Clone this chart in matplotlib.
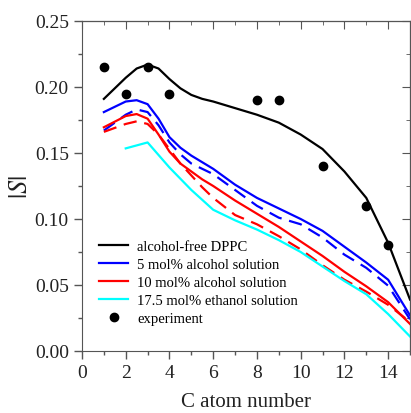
import matplotlib
matplotlib.use('Agg')
import matplotlib.pyplot as plt
from matplotlib.ticker import MultipleLocator

plt.rcParams['font.family'] = 'Liberation Serif'
plt.rcParams['mathtext.fontset'] = 'stix'

# Data
x_sim = [1, 2, 2.5, 3, 3.5, 4, 4.5, 5, 5.5, 6, 7, 8, 9, 10, 11, 12, 13, 14, 15]
s_free = [0.191, 0.207, 0.214, 0.217, 0.214, 0.206, 0.199, 0.194, 0.191, 0.189, 0.184, 0.179, 0.173, 0.164, 0.153, 0.136, 0.116, 0.082, 0.039]
s_5 = [0.181, 0.189, 0.190, 0.187, 0.176, 0.162, 0.154, 0.148, 0.143, 0.138, 0.126, 0.116, 0.108, 0.100, 0.091, 0.079, 0.067, 0.054, 0.027]
s_5_dash = [0.167, 0.179, 0.183, 0.181, 0.171, 0.158, 0.149, 0.142, 0.138, 0.134, 0.122, 0.110, 0.101, 0.096, 0.086, 0.073, 0.063, 0.0495, 0.024]
s_10 = [0.1695, 0.178, 0.1795, 0.176, 0.164, 0.151, 0.142, 0.136, 0.130, 0.125, 0.114, 0.104, 0.094, 0.083, 0.072, 0.060, 0.049, 0.037, 0.0205]
s_10_dash = [0.166, 0.172, 0.174, 0.172, 0.164, 0.153, 0.142, 0.133, 0.124, 0.116, 0.103, 0.096, 0.087, 0.077, 0.065, 0.054, 0.045, 0.035, 0.022]

x_eth = [2, 3, 4, 5, 6, 7, 8, 9, 10, 11, 12, 13, 14, 15]
s_eth = [0.1535, 0.158, 0.139, 0.122, 0.107, 0.099, 0.092, 0.084, 0.075, 0.064, 0.053, 0.043, 0.028, 0.011]

x_exp = [1, 2, 3, 4, 8, 9, 11, 13, 14]
s_exp = [0.215, 0.195, 0.215, 0.195, 0.19, 0.19, 0.14, 0.11, 0.08]

fig = plt.figure(figsize=(4.11, 4.14), dpi=100)
ax = fig.add_axes([82 / 411, 62 / 414, 328 / 411, 330 / 414])

lw = 1.6
dash = (0, (6, 3.5))
ax.plot(x_sim, s_free, color='black', lw=lw, label='alcohol-free DPPC')
ax.plot(x_sim, s_5, color='blue', lw=lw, label='5 mol% alcohol solution')
ax.plot(x_sim, s_5_dash, color='blue', lw=lw, ls=dash)
ax.plot(x_sim, s_10, color='red', lw=lw, label='10 mol% alcohol solution')
ax.plot(x_sim, s_10_dash, color='red', lw=lw, ls=dash)
ax.plot(x_eth, s_eth, color='cyan', lw=lw, label='17.5 mol% ethanol solution')
ax.plot(x_exp, s_exp, 'o', color='black', ms=6, label='experiment')

ax.set_xlim(0, 15)
ax.set_ylim(0, 0.25)
ax.xaxis.set_major_locator(MultipleLocator(2))
ax.xaxis.set_minor_locator(MultipleLocator(1))
ax.yaxis.set_major_locator(MultipleLocator(0.05))
ax.yaxis.set_minor_locator(MultipleLocator(0.025))
ax.yaxis.set_major_formatter(plt.FormatStrFormatter('%.2f'))

ax.tick_params(which='both', direction='out', top=False, right=False, labelsize=14,
               colors='#555555', labelcolor='#222222')
ax.tick_params(which='major', length=6, width=1)
ax.tick_params(which='minor', length=3, width=1)
for spine in ax.spines.values():
    spine.set_color('#555555')

# inward ticks on top and right
sec_x = ax.secondary_xaxis('top')
sec_x.xaxis.set_major_locator(MultipleLocator(2))
sec_x.xaxis.set_minor_locator(MultipleLocator(1))
sec_x.tick_params(which='both', direction='in', labeltop=False, colors='#555555')
sec_x.tick_params(which='major', length=6)
sec_x.tick_params(which='minor', length=3)
sec_y = ax.secondary_yaxis('right')
sec_y.yaxis.set_major_locator(MultipleLocator(0.05))
sec_y.yaxis.set_minor_locator(MultipleLocator(0.025))
sec_y.tick_params(which='both', direction='in', labelright=False, colors='#555555')
sec_y.tick_params(which='major', length=6)
sec_y.tick_params(which='minor', length=3)

ax.set_xlabel('C atom number', fontsize=15, labelpad=8, color='#222222')
ax.set_ylabel('$|S|$', fontsize=19, labelpad=2, color='#222222')

ax.legend(loc='lower left', bbox_to_anchor=(0.035, 0.06), frameon=False, fontsize=10.5,
          handlelength=2.0, handletextpad=0.6, labelspacing=0.33, borderaxespad=0)

fig.savefig('out.png', dpi=100)
